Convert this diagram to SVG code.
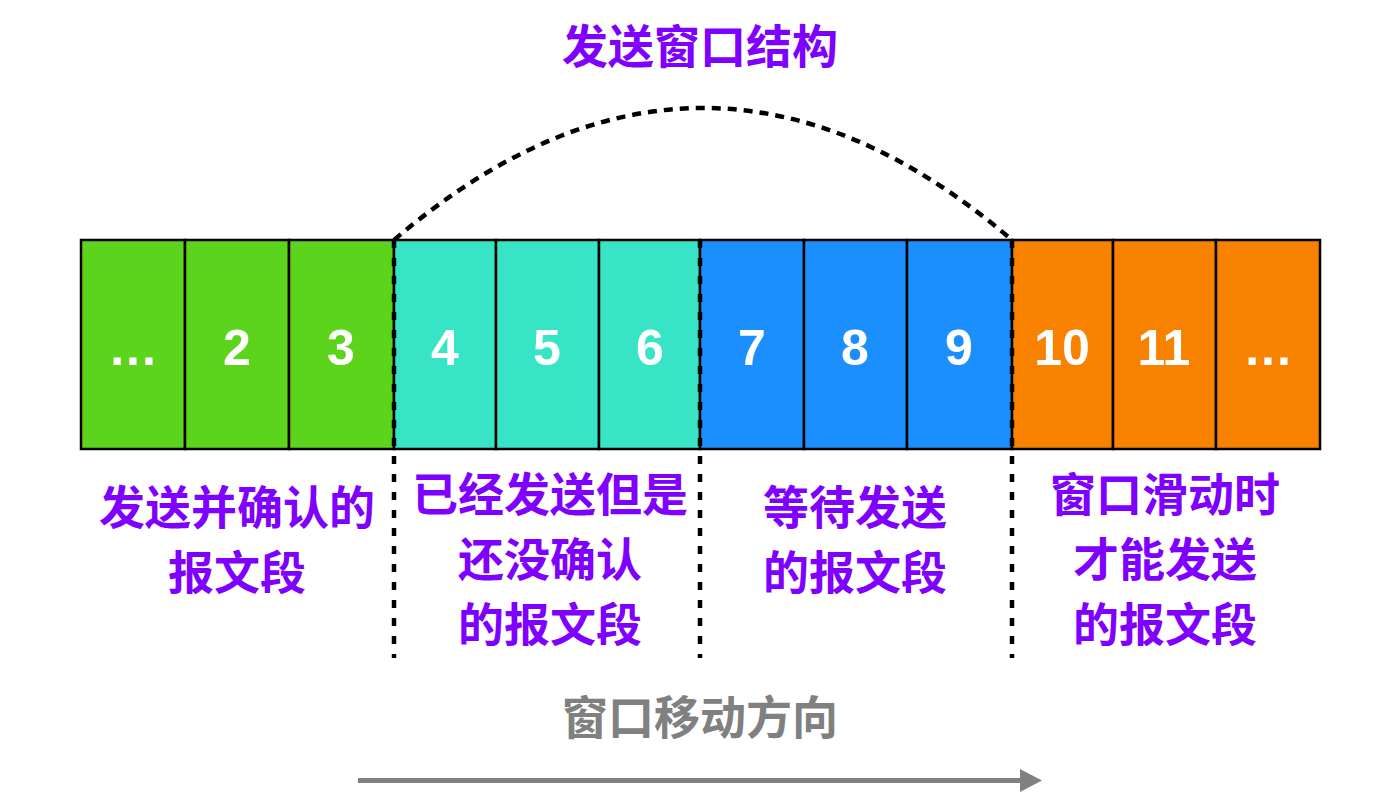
<svg xmlns="http://www.w3.org/2000/svg" width="1380" height="804" viewBox="0 0 1380 804">
<style>
.cell{stroke:#000;stroke-width:2.5}
.g{fill:#5DD41C}.t{fill:#37E4C6}.b{fill:#1C8FFF}.o{fill:#F98100}
.num{font-family:"Liberation Sans",Arial,sans-serif;font-weight:bold;font-size:50px;fill:#fff;text-anchor:middle}
.dots{letter-spacing:2px}
.lbl{font-family:"Noto Sans CJK SC",sans-serif;font-weight:bold;font-size:46px;fill:#8000FF;text-anchor:middle}
.gray{font-family:"Noto Sans CJK SC",sans-serif;font-weight:bold;font-size:46px;fill:#808080;text-anchor:middle}
.dash{stroke:#000;stroke-width:4.5;stroke-dasharray:8 10;fill:none}
.arc{stroke:#000;stroke-width:4.5;stroke-dasharray:9 7;fill:none}
</style>
<defs>
<marker id="ah" markerWidth="22" markerHeight="23" refX="0" refY="11.5" orient="auto" markerUnits="userSpaceOnUse">
<path d="M0,0 L22,11.5 L0,23 Z" fill="#808080"/>
</marker>
</defs>
<text class="lbl" x="700" y="63">发送窗口结构</text>
<g id="cells">
<g id="c0"><rect class="cell g" x="81" y="240" width="104" height="209"/><text class="num dots" x="134" y="365">...</text></g>
<g id="c2"><rect class="cell g" x="185" y="240" width="104" height="209"/><text class="num" x="237" y="365">2</text></g>
<g id="c3"><rect class="cell g" x="289" y="240" width="105" height="209"/><text class="num" x="341" y="365">3</text></g>
<g id="c4"><rect class="cell t" x="394" y="240" width="102" height="209"/><text class="num" x="445" y="365">4</text></g>
<g id="c5"><rect class="cell t" x="496" y="240" width="103" height="209"/><text class="num" x="547" y="365">5</text></g>
<g id="c6"><rect class="cell t" x="599" y="240" width="101" height="209"/><text class="num" x="650" y="365">6</text></g>
<g id="c7"><rect class="cell b" x="700" y="240" width="104" height="209"/><text class="num" x="752" y="365">7</text></g>
<g id="c8"><rect class="cell b" x="804" y="240" width="103" height="209"/><text class="num" x="855" y="365">8</text></g>
<g id="c9"><rect class="cell b" x="907" y="240" width="105" height="209"/><text class="num" x="959" y="365">9</text></g>
<g id="c10"><rect class="cell o" x="1012" y="240" width="101" height="209"/><text class="num" x="1062" y="365">10</text></g>
<g id="c11"><rect class="cell o" x="1113" y="240" width="103" height="209"/><text class="num" x="1164" y="365">11</text></g>
<g id="c12"><rect class="cell o" x="1216" y="240" width="104" height="209"/><text class="num dots" x="1269" y="365">...</text></g>
</g>
<g id="connectors">
<line class="dash" x1="394" y1="240" x2="394" y2="658"/>
<line class="dash" x1="700" y1="240" x2="700" y2="658"/>
<line class="dash" x1="1012" y1="240" x2="1012" y2="658"/>
<path class="arc" d="M394,240 Q703,-24 1012,240"/>
<line x1="358" y1="780.5" x2="1020" y2="780.5" stroke="#808080" stroke-width="5" marker-end="url(#ah)"/>
</g>
<g id="label-acked">
<text class="lbl" x="237" y="524">发送并确认的</text>
<text class="lbl" x="237" y="589">报文段</text>
</g>
<g id="label-sent">
<text class="lbl" x="550" y="511">已经发送但是</text>
<text class="lbl" x="550" y="576">还没确认</text>
<text class="lbl" x="550" y="641">的报文段</text>
</g>
<g id="label-waiting">
<text class="lbl" x="855" y="524">等待发送</text>
<text class="lbl" x="855" y="589">的报文段</text>
</g>
<g id="label-future">
<text class="lbl" x="1165" y="511">窗口滑动时</text>
<text class="lbl" x="1165" y="576">才能发送</text>
<text class="lbl" x="1165" y="641">的报文段</text>
</g>
<text class="gray" x="700" y="734">窗口移动方向</text>
</svg>
